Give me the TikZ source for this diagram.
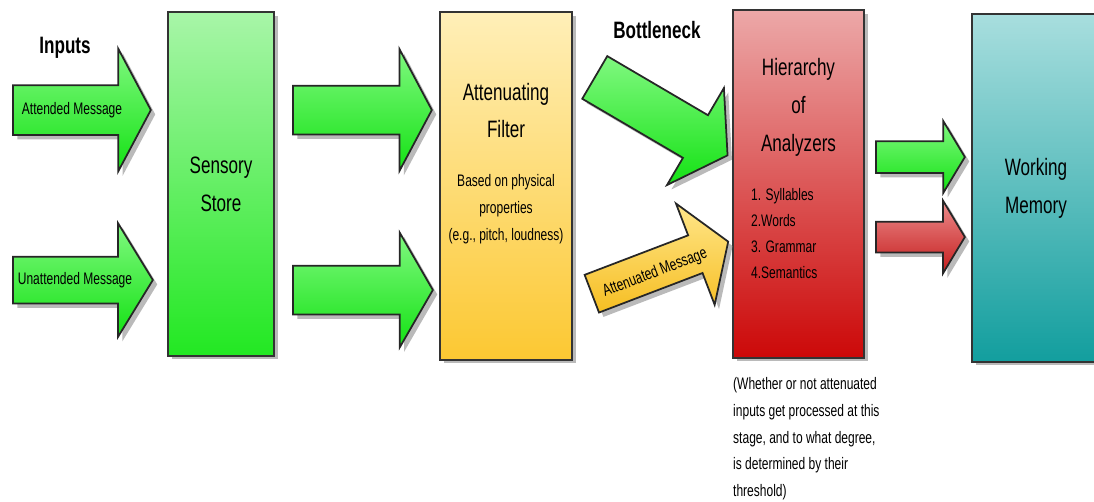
\documentclass[tikz,border=0pt]{standalone}
\usepackage{fontspec}
\setmainfont{Liberation Sans}[FakeStretch=0.72]
\usetikzlibrary{shapes.arrows, shadows, calc, positioning}

\definecolor{grntop}{HTML}{A8F5A8}
\definecolor{grnbot}{HTML}{22E822}
\definecolor{agrntop}{HTML}{80F880}
\definecolor{agrnbot}{HTML}{14E214}
\definecolor{yeltop}{HTML}{FFEFB8}
\definecolor{yelbot}{HTML}{FCC832}
\definecolor{ayeltop}{HTML}{FFE68A}
\definecolor{ayelbot}{HTML}{F6BE22}
\definecolor{redtop}{HTML}{ECA8A8}
\definecolor{redbot}{HTML}{CC0808}
\definecolor{aredtop}{HTML}{EC8C8C}
\definecolor{aredbot}{HTML}{C41C1C}
\definecolor{tealtop}{HTML}{A8DEDE}
\definecolor{tealbot}{HTML}{129E9E}

\tikzset{
  stage/.style={draw=black!80, line width=1.2pt, inner sep=0pt,
    drop shadow={shadow xshift=2pt, shadow yshift=-2pt, fill=black!45, opacity=.6}},
  blockarrow/.style={single arrow, draw=black!85, line width=1pt, inner xsep=0pt, anchor=tail,
    drop shadow={shadow xshift=2.5pt, shadow yshift=-2.5pt, fill=black!45, opacity=.6}},
  headtext/.style={align=center, font=\fontsize{13.5}{21.5}\selectfont},
  smalltext/.style={align=center, font=\fontsize{9.5}{15.3}\selectfont},
}

\begin{document}
\begin{tikzpicture}[x=0.02cm, y=-0.02cm]
    \useasboundingbox (0,0) rectangle (1094,501);

    % stages
    \node[stage, top color=grntop, bottom color=grnbot, minimum width=2.12cm, minimum height=6.88cm] (sensory) at (221,184) {};
    \node[stage, top color=yeltop, bottom color=yelbot, minimum width=2.64cm, minimum height=6.96cm] (filter) at (506,186) {};
    \node[stage, top color=redtop, bottom color=redbot, minimum width=2.62cm, minimum height=6.96cm] (analyzers) at (798.5,184) {};
    \node[stage, top color=tealtop, bottom color=tealbot, minimum width=2.56cm, minimum height=6.96cm] (memory) at (1036,188) {};

    \node[headtext] (sensorytext) at (sensory.center) {Sensory\\Store};
    \node[headtext] (filtertitle) at ($(filter.north)+(0,99.5)$) {Attenuating\\Filter};
    \node[smalltext] (filtertext) at ($(filter.north)+(0,198)$) {Based on physical\\properties\\(e.g., pitch, loudness)};
    \node[headtext] (analyzerstitle) at ($(analyzers.north)+(0,98.5)$) {Hierarchy\\of\\Analyzers};
    \node[smalltext, align=left, anchor=west, font=\fontsize{9.5}{14.8}\selectfont] (levels) at ($(analyzers.north west)+(13,224.5)$)
        {1. Syllables\\2.Words\\3. Grammar\\4.Semantics};
    \node[headtext] (memorytext) at (memory.center) {Working\\Memory};

    \node[headtext, font=\bfseries\fontsize{13.5}{16}\selectfont] (inputs) at (65,48) {Inputs};
    \node[headtext, font=\bfseries\fontsize{13.5}{16}\selectfont] (bottleneck) at (657,30) {Bottleneck};
    \node[smalltext, align=left, anchor=north west] (note) at (727,371)
        {(Whether or not attenuated\\inputs get processed at this\\stage, and to what degree,\\is determined by their\\threshold)};

    % arrows
    \node[blockarrow, top color=agrntop, bottom color=agrnbot, minimum height=2.76cm, minimum width=2.42cm, inner ysep=0.48cm,
        single arrow head extend=0.73cm, single arrow tip angle=124] (attended) at (12,110) {};
    \node[blockarrow, top color=agrntop, bottom color=agrnbot, minimum height=2.80cm, minimum width=2.24cm, inner ysep=0.45cm,
        single arrow head extend=0.67cm, single arrow tip angle=117] (unattended) at (12,280) {};
    \node[smalltext] (attendedtext) at (72,110) {Attended Message};
    \node[smalltext] (unattendedtext) at (75,280) {Unattended Message};

    \node[blockarrow, top color=agrntop, bottom color=agrnbot, minimum height=2.78cm, minimum width=2.40cm, inner ysep=0.47cm,
        single arrow head extend=0.73cm, single arrow tip angle=124] (storeup) at (292,110) {};
    \node[blockarrow, top color=agrntop, bottom color=agrnbot, minimum height=2.80cm, minimum width=2.26cm, inner ysep=0.47cm,
        single arrow head extend=0.66cm, single arrow tip angle=120] (storedown) at (292,290) {};

    \node[blockarrow, rotate=-30.4, top color=agrntop, bottom color=agrnbot, minimum height=3.08cm, minimum width=2.22cm, inner ysep=0.477cm,
        single arrow head extend=0.63cm, single arrow tip angle=113] (passed) at (594,77) {};
    \node[blockarrow, rotate=20.9, top color=ayeltop, bottom color=ayelbot, minimum height=2.92cm, minimum width=2.14cm, inner ysep=0.386cm,
        single arrow head extend=0.68cm, single arrow tip angle=114] (attenuated) at (591,294) {};
    \node[smalltext, rotate=21] (attenuatedtext) at (655,273) {Attenuated Message};

    \node[blockarrow, top color=agrntop, bottom color=agrnbot, minimum height=1.78cm, minimum width=1.40cm, inner ysep=0.30cm,
        single arrow head extend=0.40cm, single arrow tip angle=118] (toworking) at (875,157) {};
    \node[blockarrow, top color=aredtop, bottom color=aredbot, minimum height=1.78cm, minimum width=1.42cm, inner ysep=0.29cm,
        single arrow head extend=0.42cm, single arrow tip angle=118] (fromthreshold) at (875,237) {};
\end{tikzpicture}
\end{document}
